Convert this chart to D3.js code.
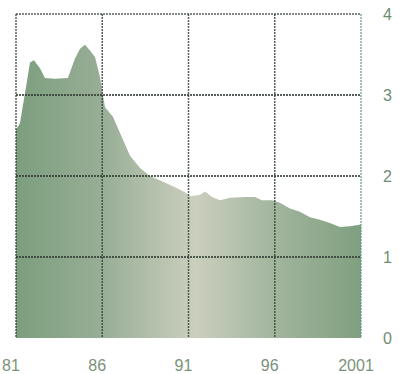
<!DOCTYPE html>
<html><head><meta charset="utf-8">
<script src="https://cdn.jsdelivr.net/npm/d3@7"></script>
<style>body{margin:0;background:#fff}svg{display:block}</style>
</head><body>
<script>
const years = [1981.0,1981.23,1981.58,1981.81,1982.04,1982.39,1982.68,1983.26,1984.01,1984.42,1984.71,1985.0,1985.29,1985.58,1985.87,1986.16,1986.62,1987.03,1987.61,1988.19,1988.77,1989.52,1990.22,1990.8,1991.09,1991.67,1991.96,1992.36,1992.83,1993.41,1994.28,1994.86,1995.26,1995.84,1996.3,1996.88,1997.46,1998.04,1998.62,1999.2,1999.78,2000.36,2001.0];
const values = [2.57,2.65,3.1,3.4,3.43,3.33,3.21,3.2,3.21,3.45,3.57,3.62,3.55,3.47,3.22,2.85,2.73,2.53,2.25,2.10,2.0,1.93,1.86,1.80,1.75,1.77,1.81,1.74,1.70,1.73,1.74,1.74,1.70,1.70,1.67,1.60,1.56,1.49,1.46,1.42,1.37,1.38,1.40];
const xTicks = [1981,1986,1991,1996,2001];
const xTickLabels = ["81","86","91","96","2001"];
const yTicks = [0,1,2,3,4];

const W = 399, H = 374;
const svg = d3.select("body").append("svg").attr("width", W).attr("height", H);
const x = d3.scaleLinear().domain([1981, 2001]).range([16, 361]);
const y = d3.scaleLinear().domain([0, 4]).range([338, 14]);

const defs = svg.append("defs");
const grad = defs.append("linearGradient").attr("id","g").attr("x1","0").attr("x2","1").attr("y1","0").attr("y2","0");
grad.append("stop").attr("offset","0").attr("stop-color","#7c9e7e");
grad.append("stop").attr("offset","0.25").attr("stop-color","#98ae96");
grad.append("stop").attr("offset","0.52").attr("stop-color","#cbcfbe");
grad.append("stop").attr("offset","0.75").attr("stop-color","#a1b59d");
grad.append("stop").attr("offset","1").attr("stop-color","#80a080");

const data = years.map((d,i)=>({year:d, v:values[i]}));
const area = d3.area().x(d=>x(d.year)).y0(y(0)).y1(d=>y(d.v)).curve(d3.curveLinear);
svg.append("path").datum(data).attr("d", area).attr("fill","url(#g)");

// grid
const grid = svg.append("g");
grid.selectAll("line.h").data(yTicks).join("line")
  .attr("x1", x(1981)).attr("x2", x(2001))
  .attr("y1", d=>y(d)).attr("y2", d=>y(d))
  .attr("stroke", d=> d===0 ? "none" : "#2f3a30").attr("stroke-width", d=> d===4 ? 1.5 : 2).attr("stroke-dasharray","2,1").attr("opacity",0.8);
grid.selectAll("line.v").data(xTicks).join("line")
  .attr("x1", d=>x(d)).attr("x2", d=>x(d))
  .attr("y1", y(4)).attr("y2", y(0))
  .attr("stroke", (d,i)=> i===4 ? "#5f9a88" : "#2f3a30").attr("stroke-width", 1.5).attr("stroke-dasharray","2,1").attr("opacity",0.8);

// axis labels
svg.append("g").selectAll("text").data(xTicks).join("text")
  .attr("x", d=>x(d) - 5).attr("y", 371)
  .attr("text-anchor","middle")
  .attr("font-family","Liberation Sans Narrow, Liberation Sans, Arial, sans-serif").attr("font-size", 16)
  .attr("fill","#7a927a")
  .text((d,i)=>xTickLabels[i]);
svg.append("g").selectAll("text").data(yTicks).join("text")
  .attr("x", 383).attr("y", d=>y(d) + 6)
  .attr("font-family","Liberation Sans Narrow, Liberation Sans, Arial, sans-serif").attr("font-size", 16)
  .attr("fill","#6f8c73")
  .text(d=>d);
</script>
</body></html>
